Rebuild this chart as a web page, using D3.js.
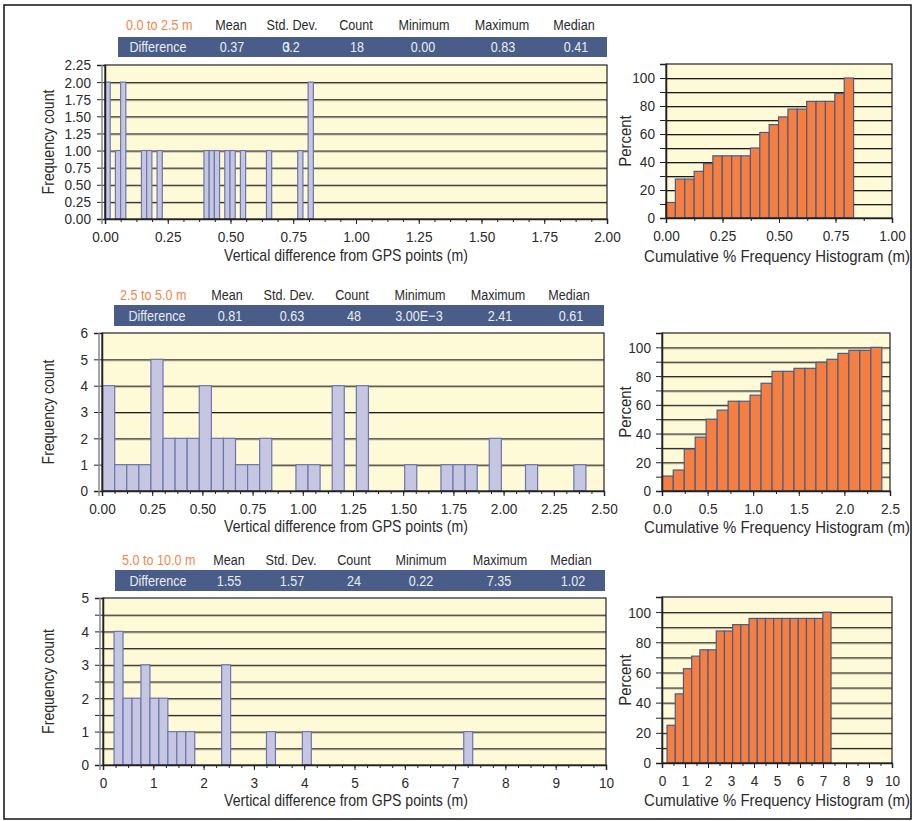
<!DOCTYPE html>
<html>
<head>
<meta charset="utf-8">
<title>Vertical difference from GPS points</title>
<script src="https://d3js.org/d3.v7.min.js"></script>
<style>
  body { margin: 0; background: #fff; }
  svg { display: block; font-family: "Liberation Sans", Arial, sans-serif; }
  text { fill: #2b2b2b; }
  .stat-head { font-size: 15px; text-anchor: middle; }
  .range-label { font-size: 15px; fill: #f3874d; }
  .stat-val { font-size: 15px; fill: #e9ecf4; text-anchor: middle; }
  .axis text { font-size: 15.5px; fill: #2b2b2b; font-family: "Liberation Sans", Arial, sans-serif; }
  .axis path, .axis line { stroke: #222; }
  .axis-title { font-size: 16px; text-anchor: middle; }
</style>
</head>
<body>
<svg id="chart" width="913" height="821"></svg>
<script>
// ---- data ---------------------------------------------------------------
const statNames = ["Mean", "Std. Dev.", "Count", "Minimum", "Maximum", "Median"];
const rangeLabels = ["0.0 to 2.5 m", "2.5 to 5.0 m", "5.0 to 10.0 m"];
const rowLabel = "Difference";
const stats1 = ["0.37", "0.2", "18", "0.00", "0.83", "0.41"];
const stats2 = ["0.81", "0.63", "48", "3.00E\u22123", "2.41", "0.61"];
const stats3 = ["1.55", "1.57", "24", "0.22", "7.35", "1.02"];

// frequency histograms: 40 equal bins between min and max difference
const binRange1 = [0.00, 0.83];
const counts1 = [2, 0, 1, 2, 0, 0, 0, 1, 1, 0,
                 1, 0, 0, 0, 0, 0, 0, 0, 0, 1,
                 1, 1, 0, 1, 1, 0, 1, 0, 0, 0,
                 0, 1, 0, 0, 0, 0, 0, 1, 0, 2];
const binRange2 = [0.003, 2.41];
const counts2 = [4, 1, 1, 1, 5, 2, 2, 2, 4, 2,
                 2, 1, 1, 2, 0, 0, 1, 1, 0, 4,
                 0, 4, 0, 0, 0, 1, 0, 0, 1, 1,
                 1, 0, 2, 0, 0, 1, 0, 0, 0, 1];
const binRange3 = [0.22, 7.35];
const counts3 = [4, 2, 2, 3, 2, 2, 1, 1, 1, 0,
                 0, 0, 3, 0, 0, 0, 0, 1, 0, 0,
                 0, 1, 0, 0, 0, 0, 0, 0, 0, 0,
                 0, 0, 0, 0, 0, 0, 0, 0, 0, 1];

// cumulative % histograms: 20 equal bins over the same ranges
const cum1 = [11.1, 27.8, 27.8, 33.3, 38.9, 44.4, 44.4, 44.4, 44.4, 50.0,
              61.1, 66.7, 72.2, 77.8, 77.8, 83.3, 83.3, 83.3, 88.9, 100];
const cum2 = [10.4, 14.6, 29.2, 37.5, 50.0, 56.3, 62.5, 62.5, 66.7, 75.0,
              83.3, 83.3, 85.4, 85.4, 89.6, 91.7, 95.8, 97.9, 97.9, 100];
const cum3 = [25.0, 45.8, 62.5, 70.8, 75.0, 75.0, 87.5, 87.5, 91.7, 91.7,
              95.8, 95.8, 95.8, 95.8, 95.8, 95.8, 95.8, 95.8, 95.8, 100];

// axis ticks
const xTicks1 = [0, 0.25, 0.5, 0.75, 1, 1.25, 1.5, 1.75, 2];
const yTicks1 = [0, 0.25, 0.5, 0.75, 1, 1.25, 1.5, 1.75, 2, 2.25];
const xTicks2 = [0, 0.25, 0.5, 0.75, 1, 1.25, 1.5, 1.75, 2, 2.25, 2.5];
const yTicks2 = [0, 1, 2, 3, 4, 5, 6];
const xTicks3 = [0, 1, 2, 3, 4, 5, 6, 7, 8, 9, 10];
const yTicks3 = [0, 1, 2, 3, 4, 5];
const cumXTicks1 = [0, 0.25, 0.5, 0.75, 1];
const cumXTicks2 = [0, 0.5, 1, 1.5, 2, 2.5];
const cumXTicks3 = [0, 1, 2, 3, 4, 5, 6, 7, 8, 9, 10];
const cumYTicks = [0, 20, 40, 60, 80, 100];

const xTitle = "Vertical difference from GPS points (m)";
const yTitle = "Frequency count";
const cumXTitle = "Cumulative % Frequency Histogram (m)";
const cumYTitle = "Percent";

// ---- colours ------------------------------------------------------------
const plotBg = "#fef9d6";
const histFill = "#c6c6e2", histStroke = "#6a78ab";
const cumFill = "#f47f40", cumStroke = "#4b5b88";
const headBg = "#4a5d89";

const svg = d3.select("#chart");

// outer frame
svg.append("rect")
  .attr("x", 4).attr("y", 5).attr("width", 907).attr("height", 814)
  .attr("fill", "none").attr("stroke", "#111").attr("stroke-width", 1.5);

function gridLines(g, y, values, x0, x1) {
  values.forEach(v => {
    g.append("line")
      .attr("x1", x0).attr("x2", x1)
      .attr("y1", y(v) + 1.5).attr("y2", y(v) + 1.5)
      .attr("stroke", "#b9b39a").attr("stroke-width", 1);
    g.append("line")
      .attr("x1", x0).attr("x2", x1)
      .attr("y1", y(v) + 0.5).attr("y2", y(v) + 0.5)
      .attr("stroke", "#1c1c1c").attr("stroke-width", 1);
  });
}

function header(p) {
  const g = svg.append("g");
  g.append("rect")
    .attr("x", p.barX0).attr("y", p.barY0)
    .attr("width", p.barX1 - p.barX0).attr("height", p.barY1 - p.barY0)
    .attr("fill", headBg);
  g.append("text").attr("class", "range-label")
    .attr("x", p.rangeX).attr("y", p.headY).text(p.range);
  statNames.forEach((s, i) => {
    g.append("text").attr("class", "stat-head")
      .attr("x", p.colX[i]).attr("y", p.headY).text(s);
    g.append("text").attr("class", "stat-val")
      .attr("x", p.valX[i]).attr("y", p.valY).text(p.stats[i]);
  });
  g.append("text").attr("class", "stat-val")
    .attr("x", p.diffX).attr("y", p.valY).text(rowLabel);
  return g;
}

function histogram(p) {
  const g = svg.append("g");
  const x = d3.scaleLinear().domain(p.xDomain).range([p.x0, p.x1]);
  const y = d3.scaleLinear().domain(p.yDomain).range([p.y1, p.y0]);

  g.append("rect")
    .attr("x", p.x0).attr("y", p.y0)
    .attr("width", p.x1 - p.x0).attr("height", p.y1 - p.y0)
    .attr("fill", plotBg);

  gridLines(g, y, p.grid, p.x0, p.x1);

  const n = p.values.length;
  const w = (p.binRange[1] - p.binRange[0]) / n;
  const bins = p.values.map((v, i) => ({ lo: p.binRange[0] + i * w, hi: p.binRange[0] + (i + 1) * w, v }))
    .filter(d => d.v > 0);

  g.selectAll("rect.bar").data(bins).join("rect")
    .attr("class", "bar")
    .attr("x", d => x(d.lo))
    .attr("width", d => x(d.hi) - x(d.lo))
    .attr("y", d => y(d.v))
    .attr("height", d => y(0) - y(d.v))
    .attr("fill", p.fill)
    .attr("stroke", p.stroke)
    .attr("stroke-width", 1.2);

  // frame
  g.append("rect")
    .attr("x", p.x0).attr("y", p.y0)
    .attr("width", p.x1 - p.x0).attr("height", p.y1 - p.y0)
    .attr("fill", "none").attr("stroke", "#222").attr("stroke-width", 1.2);

  // minor ticks
  g.append("g").attr("class", "axis")
    .attr("transform", `translate(0,${p.y1})`)
    .call(d3.axisBottom(x).tickValues(d3.range(p.xDomain[0], p.xDomain[1] + 1e-9, p.xMinor)).tickSize(3).tickFormat(""))
    .call(a => a.select(".domain").remove());
  g.append("g").attr("class", "axis")
    .attr("transform", `translate(${p.x0},0)`)
    .call(d3.axisLeft(y).tickValues(p.yMinor).tickSize(p.yTickSize).tickFormat(""))
    .call(a => a.select(".domain").remove());

  g.append("g").attr("class", "axis")
    .attr("transform", `translate(0,${p.y1})`)
    .call(d3.axisBottom(x).tickValues(p.xTicks).tickFormat(d3.format(p.xFmt)).tickSize(5).tickPadding(7))
    .call(a => a.select(".domain").attr("stroke-width", 1.5));
  g.append("g").attr("class", "axis")
    .attr("transform", `translate(${p.x0},0)`)
    .call(d3.axisLeft(y).tickValues(p.yTicks).tickFormat(d3.format(p.yFmt)).tickSize(p.yTickSize).tickPadding(p.yPad))
    .call(a => a.select(".domain").attr("stroke-width", 1.5));

  if (p.doubleAxis) {
    g.append("line")
      .attr("x1", p.x0 - 3).attr("x2", p.x0 - 3)
      .attr("y1", p.y0).attr("y2", p.y1 + 5)
      .attr("stroke", "#888").attr("stroke-width", 1.5);
  }

  g.append("text").attr("class", "axis-title")
    .attr("x", p.titleX).attr("y", p.titleY).style("font-size", p.titleSize).text(p.xTitle);
  g.append("text").attr("class", "axis-title")
    .attr("transform", `translate(${p.yTitleX},${(p.y0 + p.y1) / 2}) rotate(-90)`)
    .style("font-size", p.titleSize)
    .text(p.yTitle);
}

// ---- panel layouts ------------------------------------------------------
const headCols = [
  { colX: [231, 292, 356, 424, 502, 574], valX: [232, 291, 357, 423, 503, 576], diffX: 158, rangeX: 126, headY: 30, valY: 52, barX0: 118, barX1: 607, barY0: 37, barY1: 57 },
  { colX: [227, 289, 352, 420, 498, 569], valX: [230, 292, 354, 419, 500, 571], diffX: 157, rangeX: 120, headY: 300, valY: 321, barX0: 114, barX1: 604, barY0: 305, barY1: 326 },
  { colX: [229, 291, 354, 421, 500, 571], valX: [229, 292, 354, 421, 499, 573], diffX: 158, rangeX: 122, headY: 565, valY: 586, barX0: 115, barX1: 605, barY0: 570, barY1: 591 }
];
const statsList = [stats1, stats2, stats3];
headCols.forEach((h, i) => header(Object.assign({ range: rangeLabels[i], stats: statsList[i] }, h)));

// overlapping glyph in the first Std. Dev. value
svg.append("text").attr("class", "stat-val").style("text-anchor", "start")
  .attr("x", 283).attr("y", 52).text("3");

const leftPanels = [
  { x0: 105, x1: 607, y0: 65, y1: 219, xDomain: [0, 2], yDomain: [0, 2.25],
    xTicks: xTicks1, yTicks: yTicks1, xFmt: ".2f", yFmt: ".2f", grid: yTicks1.slice(1, -1),
    xMinor: 0.0625, yMinor: [], binRange: binRange1, values: counts1, titleY: 261 },
  { x0: 102, x1: 604, y0: 333, y1: 491, xDomain: [0, 2.5], yDomain: [0, 6],
    xTicks: xTicks2, yTicks: yTicks2, xFmt: ".2f", yFmt: "d", grid: yTicks2.slice(1, -1),
    xMinor: 0.0625, yMinor: [], binRange: binRange2, values: counts2, titleY: 532 },
  { x0: 103, x1: 606, y0: 598, y1: 765, xDomain: [0, 10], yDomain: [0, 5],
    xTicks: xTicks3, yTicks: yTicks3, xFmt: "d", yFmt: "d", grid: d3.range(0.5, 5, 0.5),
    xMinor: 0.25, yMinor: d3.range(0.5, 5, 1), binRange: binRange3, values: counts3, titleY: 806 }
];
leftPanels.forEach(p => histogram(Object.assign({
  fill: histFill, stroke: histStroke, yTickSize: 8, yPad: 6, doubleAxis: true,
  titleX: 346, xTitle, yTitle, yTitleX: 54, titleSize: "16px"
}, p)));

const cumPanels = [
  { x0: 666, x1: 892, y0: 64, y1: 218, xDomain: [0, 1], xTicks: cumXTicks1, xFmt: ".2f",
    xMinor: 0.125, binRange: binRange1, values: cum1, titleY: 262 },
  { x0: 662, x1: 890, y0: 333, y1: 491, xDomain: [0, 2.5], xTicks: cumXTicks2, xFmt: ".1f",
    xMinor: 0.25, binRange: binRange2, values: cum2, titleY: 533 },
  { x0: 662, x1: 892, y0: 597, y1: 763, xDomain: [0, 10], xTicks: cumXTicks3, xFmt: "d",
    xMinor: 0.5, binRange: binRange3, values: cum3, titleY: 806 }
];
cumPanels.forEach(p => histogram(Object.assign({
  yDomain: [0, 110], yTicks: cumYTicks, yFmt: "d", grid: d3.range(10, 110, 10),
  yMinor: d3.range(10, 110, 20), fill: cumFill, stroke: cumStroke, yTickSize: 6, yPad: 5,
  doubleAxis: false, titleX: 777, xTitle: cumXTitle, yTitle: cumYTitle, yTitleX: 631, titleSize: "17px"
}, p)));

// the original face is a condensed sans: narrow every text horizontally
function squeeze(sel, k) {
  sel.each(function () {
    const t = d3.select(this);
    const tr = t.attr("transform");
    if (tr && tr.includes("rotate")) {
      t.attr("transform", tr + ` scale(${k},1)`);
      return;
    }
    const x = +t.attr("x") || 0, y = +t.attr("y") || 0;
    t.attr("x", null).attr("y", null)
      .attr("transform", `translate(${x},${y}) scale(${k},1)`);
  });
}
squeeze(svg.selectAll(".stat-head, .stat-val, .range-label"), 0.84);
squeeze(svg.selectAll(".axis text"), 0.88);
squeeze(svg.selectAll(".axis-title"), 0.88);
</script>
</body>
</html>
